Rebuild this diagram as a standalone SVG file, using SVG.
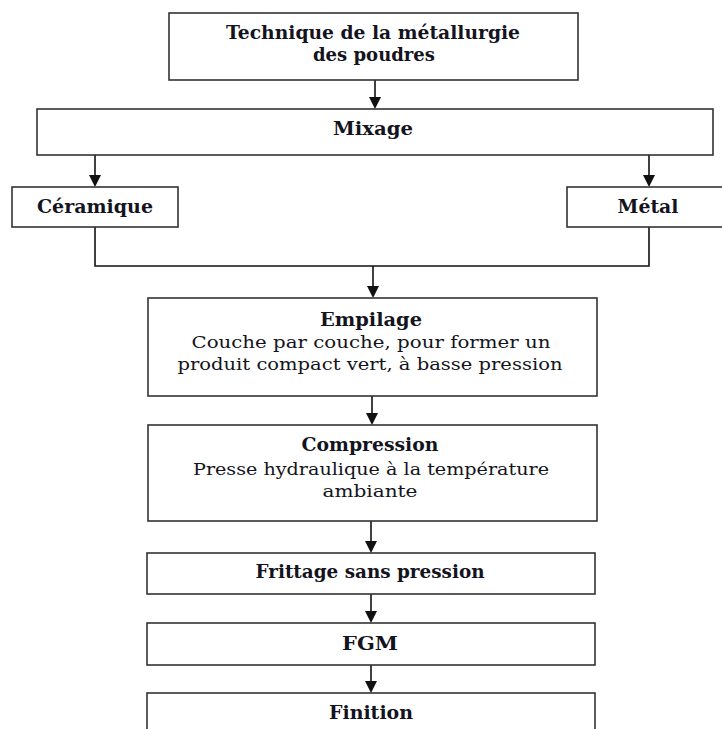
<svg xmlns="http://www.w3.org/2000/svg" width="722" height="729" viewBox="0 0 722 729">
<style>
.box{fill:#fff;stroke:#333;stroke-width:1.6}
.t{font-family:"DejaVu Serif","Liberation Serif",serif;font-size:17px;fill:#141420;text-anchor:middle}
.b{font-weight:bold;font-size:18.5px}
.c{fill:none;stroke:#111;stroke-width:1.6}
</style>
<rect width="722" height="729" fill="#fff"/>
<g id="connectors">
<line class="c" x1="375" y1="80" x2="375" y2="97"/>
<path d="M369,97 L381,97 L375,109 Z" fill="#111"/>
<line class="c" x1="95" y1="155" x2="95" y2="175"/>
<path d="M89,175 L101,175 L95,187 Z" fill="#111"/>
<line class="c" x1="649" y1="155" x2="649" y2="175"/>
<path d="M643,175 L655,175 L649,187 Z" fill="#111"/>
<polyline class="c" points="95,227 95,266 649,266 649,227"/>
<line class="c" x1="373" y1="266" x2="373" y2="286"/>
<path d="M367,286 L379,286 L373,298 Z" fill="#111"/>
<line class="c" x1="372" y1="396" x2="372" y2="413"/>
<path d="M366,413 L378,413 L372,425 Z" fill="#111"/>
<line class="c" x1="371" y1="521" x2="371" y2="541"/>
<path d="M365,541 L377,541 L371,553 Z" fill="#111"/>
<line class="c" x1="371" y1="594" x2="371" y2="611"/>
<path d="M365,611 L377,611 L371,623 Z" fill="#111"/>
<line class="c" x1="371" y1="665" x2="371" y2="681"/>
<path d="M365,681 L377,681 L371,693 Z" fill="#111"/>
</g>
<g id="n-technique">
<rect class="box" x="169" y="13" width="409" height="67"/>
<text class="t b" x="373" y="39" textLength="294" lengthAdjust="spacingAndGlyphs">Technique de la métallurgie</text>
<text class="t b" x="374" y="61" textLength="122" lengthAdjust="spacingAndGlyphs">des poudres</text>
</g>
<g id="n-mixage">
<rect class="box" x="37" y="109" width="676" height="46"/>
<text class="t b" x="373" y="135" textLength="80" lengthAdjust="spacingAndGlyphs">Mixage</text>
</g>
<g id="n-ceramique">
<rect class="box" x="12" y="187" width="166" height="40"/>
<text class="t b" x="95" y="213" textLength="116" lengthAdjust="spacingAndGlyphs">Céramique</text>
</g>
<g id="n-metal">
<rect class="box" x="567" y="187" width="160" height="40"/>
<text class="t b" x="648" y="213" textLength="61" lengthAdjust="spacingAndGlyphs">Métal</text>
</g>
<g id="n-empilage">
<rect class="box" x="148" y="298" width="449" height="98"/>
<text class="t b" x="371" y="326" textLength="102" lengthAdjust="spacingAndGlyphs">Empilage</text>
<text class="t" x="371" y="348" textLength="359" lengthAdjust="spacingAndGlyphs">Couche par couche, pour former un</text>
<text class="t" x="370" y="370" textLength="385" lengthAdjust="spacingAndGlyphs">produit compact vert, à basse pression</text>
</g>
<g id="n-compression">
<rect class="box" x="148" y="425" width="449" height="96"/>
<text class="t b" x="370" y="451" textLength="137" lengthAdjust="spacingAndGlyphs">Compression</text>
<text class="t" x="371" y="475" textLength="356" lengthAdjust="spacingAndGlyphs">Presse hydraulique à la température</text>
<text class="t" x="370" y="497" textLength="95" lengthAdjust="spacingAndGlyphs">ambiante</text>
</g>
<g id="n-frittage">
<rect class="box" x="147" y="553" width="448" height="41"/>
<text class="t b" x="370" y="578" textLength="229" lengthAdjust="spacingAndGlyphs">Frittage sans pression</text>
</g>
<g id="n-fgm">
<rect class="box" x="147" y="623" width="448" height="42"/>
<text class="t b" x="370" y="650" textLength="56" lengthAdjust="spacingAndGlyphs">FGM</text>
</g>
<g id="n-finition">
<rect class="box" x="147" y="693" width="448" height="60"/>
<text class="t b" x="371" y="719" textLength="84" lengthAdjust="spacingAndGlyphs">Finition</text>
</g>
</svg>
